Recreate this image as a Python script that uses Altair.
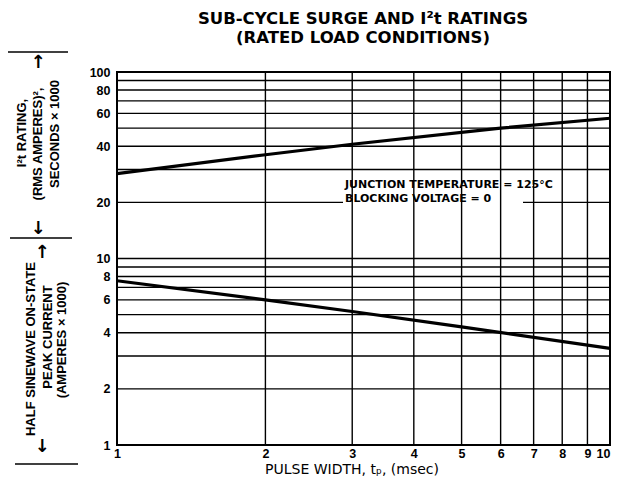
import altair as alt
import pandas as pd

# ---- data ----
pulse_ms = [1, 2, 3, 6, 10]
i2t_k = [28.5, 36, 41, 50, 56.5]        # I^2t rating, (RMS A)^2 s x 1000
cur_ms = [1, 2, 3, 5, 10]
current_k = [7.6, 6.0, 5.2, 4.3, 3.3]   # peak current, A x 1000
x_ticks = [1, 2, 3, 4, 5, 6, 7, 8, 9, 10]
y_ticks = [1, 2, 4, 6, 8, 10, 20, 40, 60, 80, 100]
h_grid = [2, 3, 4, 5, 6, 7, 8, 9, 10, 20, 30, 40, 50, 60, 70, 80, 90]
v_grid = [2, 3, 4, 5, 6, 7, 8, 9]

FONT = "Liberation Sans"
WIDE = "DejaVu Sans"

xs = alt.Scale(type="log", domain=[1, 10], nice=False)
ys = alt.Scale(type="log", domain=[1, 100], nice=False)

xaxis = alt.Axis(values=x_ticks, format="d", title=None, grid=False, ticks=False,
                 domain=False, labelFont=FONT, labelFontSize=12.5, labelFontWeight="bold",
                 labelPadding=2, labelColor="black",
                 labelAlign={"expr": "datum.value == 10 ? 'right' : 'center'"})
yaxis = alt.Axis(values=y_ticks, format="d", title=None, grid=False, ticks=False,
                 domain=False, labelFont=FONT, labelFontSize=12.5, labelFontWeight="bold",
                 labelPadding=7, labelColor="black")

df_lines = pd.DataFrame({
    "x": pulse_ms + cur_ms,
    "y": i2t_k + current_k,
    "s": ["i2t"] * len(pulse_ms) + ["cur"] * len(cur_ms),
})

hgrid = alt.Chart(pd.DataFrame({"y": h_grid})).mark_rule(color="black", strokeWidth=1.4).encode(
    y=alt.Y("y:Q", scale=ys, axis=yaxis))

mask = alt.Chart(pd.DataFrame({"a": [0]})).mark_rect(color="white").encode(
    x=alt.value(226), x2=alt.value(406), y=alt.value(107), y2=alt.value(134))

vgrid = alt.Chart(pd.DataFrame({"x": v_grid})).mark_rule(color="black", strokeWidth=1.4).encode(
    x=alt.X("x:Q", scale=xs, axis=xaxis))

lines = alt.Chart(df_lines).mark_line(color="black", strokeWidth=3.2).encode(
    x=alt.X("x:Q", scale=xs, axis=xaxis),
    y=alt.Y("y:Q", scale=ys, axis=yaxis),
    detail="s:N")


def txt(s, x, y, size=12, weight="bold", angle=0, align="center", font=FONT):
    return alt.Chart(pd.DataFrame({"t": [s]})).mark_text(
        fontSize=size, fontWeight=weight, angle=angle, align=align,
        baseline="middle", color="black", font=font).encode(
        text="t:N", x=alt.value(x), y=alt.value(y))


def seg(x1, x2, y):
    return alt.Chart(pd.DataFrame({"a": [0]})).mark_rule(color="black", strokeWidth=1.5).encode(
        x=alt.value(x1), x2=alt.value(x2), y=alt.value(y))


texts = [
    txt("SUB-CYCLE SURGE AND I²t RATINGS", 246, -53, size=16.5, font=WIDE),
    txt("(RATED LOAD CONDITIONS)", 246, -34, size=16.5, font=WIDE),
    txt("JUNCTION TEMPERATURE = 125°C", 228, 113, size=11, align="left", font=WIDE),
    txt("BLOCKING VOLTAGE = 0", 228, 127, size=11, align="left", font=WIDE),
    txt("PULSE WIDTH, t\u209a, (msec)", 235, 398, size=14, weight="normal", font=WIDE),
    # left-hand titles
    txt("I²t RATING,", -95, 61, size=13, angle=270),
    txt("(RMS AMPERES)²,", -79, 72, size=13, angle=270),
    txt("SECONDS × 1000", -62, 62, size=13, angle=270),
    txt("↑", -79, -9, size=18, font=WIDE),
    txt("↓", -79, 157, size=18, font=WIDE),
    txt("HALF SINEWAVE ON-STATE", -86, 277, size=13, angle=270),
    txt("PEAK CURRENT", -69, 265, size=13, angle=270),
    txt("(AMPERES × 1000)", -55, 268, size=13, angle=270),
    txt("↑", -75, 181, size=18, font=WIDE),
    txt("↓", -75, 375, size=18, font=WIDE),
]

segs = [seg(-112, -49, -20), seg(-107, -45, 166), seg(-102, -39, 392)]

chart = alt.layer(hgrid, mask, vgrid, lines, *texts, *segs).properties(
    width=493, height=373,
    autosize=alt.AutoSizeParams(type="none"),
    padding={"left": 109, "top": 64, "right": 3, "bottom": 33},
).configure_view(stroke="black", strokeWidth=2)

chart.save("out.html", embed_options={"renderer": "svg", "actions": False})
